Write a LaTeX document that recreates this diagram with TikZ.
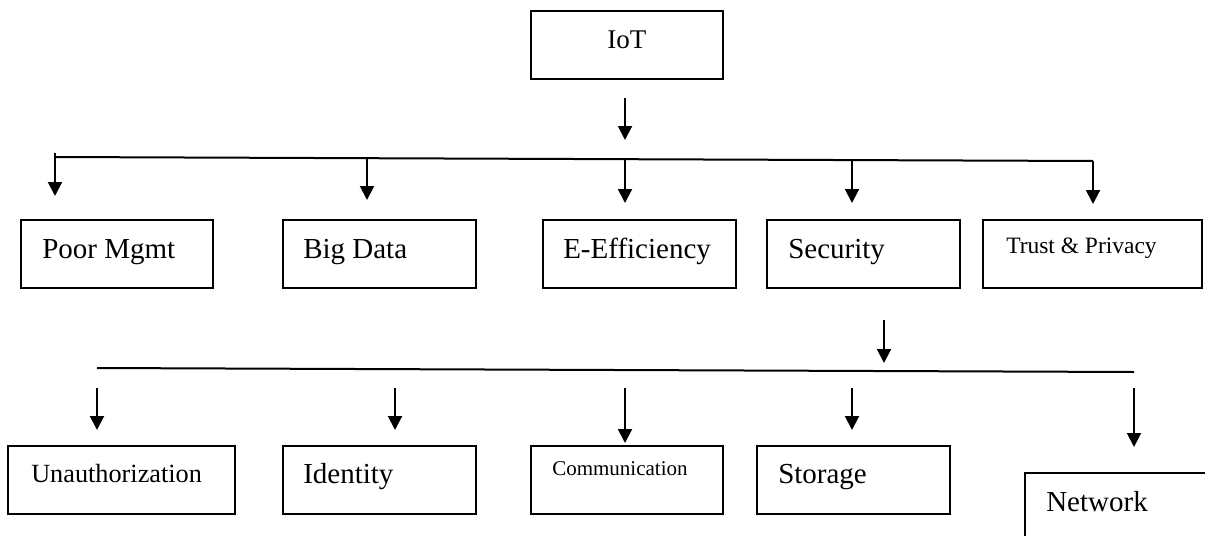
\documentclass[tikz,border=0pt]{standalone}
\usepackage{fontspec}
\setmainfont{Liberation Serif}
\usetikzlibrary{arrows.meta,fit}
\begin{document}
\begin{tikzpicture}[x=0.75pt,y=-0.75pt,
  box/.style={draw, line width=1.5pt, inner sep=0pt},
  lbl/.style={anchor=base west, inner sep=0pt, font=\fontsize{21.75}{26}\selectfont},
  arr/.style={line width=1.5pt, -{Triangle[length=10.5pt,width=10.5pt]}},
  bus/.style={line width=1.5pt, line join=miter}]
\clip (0,0) rectangle (1205,535);

% ---- boxes ----
\node[box, fit={(531,11) (723,79)}]   (iot) {};
\node[box, fit={(21,220) (213,288)}]  (poor) {};
\node[box, fit={(283,220) (476,288)}] (big) {};
\node[box, fit={(543,220) (736,288)}] (eeff) {};
\node[box, fit={(767,220) (960,288)}] (sec) {};
\node[box, fit={(983,220) (1202,288)}] (trust) {};
\node[box, fit={(8,446) (235,514)}]   (unauth) {};
\node[box, fit={(283,446) (476,514)}] (ident) {};
\node[box, fit={(531,446) (723,514)}] (comm) {};
\node[box, fit={(757,446) (950,514)}] (stor) {};
\node[box, fit={(1025,473) (1230,560)}] (net) {};

% ---- labels ----
\node[lbl, font=\fontsize{20.25}{24}\selectfont] (tiot) at (607,49) {IoT};
\node[lbl] (tpoor) at (42,258) {Poor Mgmt};
\node[lbl] (tbig)  at (303,258) {Big Data};
\node[lbl] (teeff) at (563,258) {E-Efficiency};
\node[lbl] (tsec)  at (788,258) {Security};
\node[lbl, font=\fontsize{17.6}{21}\selectfont] (ttrust) at (1006,253) {Trust \& Privacy};
\node[lbl, font=\fontsize{19.7}{24}\selectfont] (tunauth) at (31,482) {Unauthorization};
\node[lbl] (tident) at (303,483) {Identity};
\node[lbl, font=\fontsize{15.75}{19}\selectfont] (tcomm) at (552,475) {Communication};
\node[lbl] (tstor) at (778,483) {Storage};
\node[lbl] (tnet)  at (1046,511) {Network};

% ---- first level distribution ----
\coordinate (iotA) at (625,98);
\coordinate (iotB) at (625,140);
\coordinate (busLtop) at (55,153);
\coordinate (busL) at (55,157);
\coordinate (busR) at (1093,161);
\coordinate (poorIn) at (55,196);
\coordinate (bigA) at (367,158.2);
\coordinate (bigIn) at (367,200);
\coordinate (eeffA) at (625,159.2);
\coordinate (eeffIn) at (625,203);
\coordinate (secA) at (852,160.1);
\coordinate (secIn) at (852,203);
\coordinate (trustIn) at (1093,204);

\draw[arr] (iotA) -- (iotB);
\draw[bus] (busL) -- (busR);
\draw[arr] (busLtop) -- (poorIn);
\draw[arr] (bigA) -- (bigIn);
\draw[arr] (eeffA) -- (eeffIn);
\draw[arr] (secA) -- (secIn);
\draw[arr] (busR) -- (trustIn);

% ---- second level distribution ----
\coordinate (sdA) at (884,320);
\coordinate (sdB) at (884,363);
\coordinate (bus2L) at (97,368);
\coordinate (bus2R) at (1134,372);
\coordinate (unA) at (97,388);   \coordinate (unIn) at (97,430);
\coordinate (idA) at (395,388);  \coordinate (idIn) at (395,430);
\coordinate (coA) at (625,388);  \coordinate (coIn) at (625,443);
\coordinate (stA) at (852,388);  \coordinate (stIn) at (852,430);
\coordinate (neA) at (1134,388); \coordinate (neIn) at (1134,447);

\draw[arr] (sdA) -- (sdB);
\draw[bus] (bus2L) -- (bus2R);
\draw[arr] (unA) -- (unIn);
\draw[arr] (idA) -- (idIn);
\draw[arr] (coA) -- (coIn);
\draw[arr] (stA) -- (stIn);
\draw[arr] (neA) -- (neIn);
\end{tikzpicture}
\end{document}
